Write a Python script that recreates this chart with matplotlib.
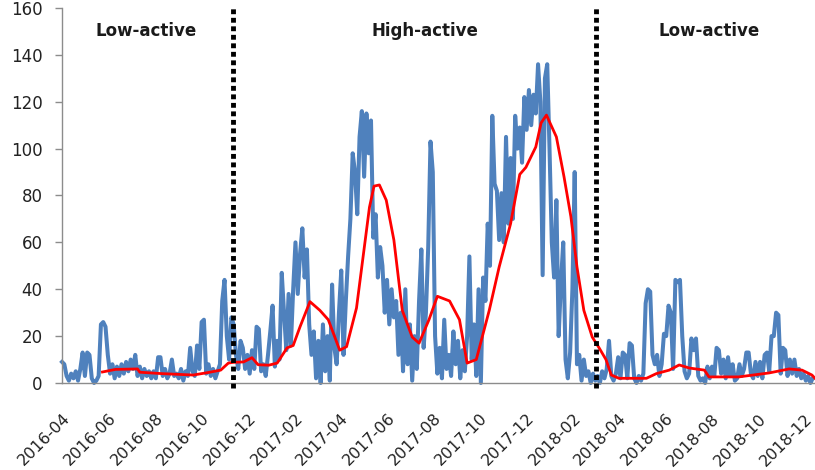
import matplotlib
matplotlib.use('Agg')
import matplotlib.pyplot as plt
import matplotlib.transforms as mtransforms
import pandas as pd

# activity index, one reading every 3 days starting 2016-04-01
series_start = '2016-04-01'
series_step = '3D'
activity = [
    9, 8, 3, 1, 4, 2, 5, 1, 6, 13,
    3, 13, 12, 2, 0, 1, 3, 25, 26, 24,
    12, 4, 8, 2, 7, 3, 8, 4, 9, 5,
    10, 6, 12, 3, 7, 2, 6, 3, 5, 2,
    5, 2, 11, 11, 3, 6, 2, 4, 10, 3,
    4, 2, 6, 1, 5, 3, 15, 5, 3, 16,
    6, 26, 27, 4, 8, 3, 6, 2, 5, 8,
    35, 44, 20, 10, 28, 25, 12, 6, 18, 15,
    6, 12, 4, 14, 6, 24, 23, 5, 8, 3,
    12, 22, 33, 7, 18, 10, 47, 30, 14, 38,
    16, 40, 60, 38, 55, 66, 45, 57, 25, 12,
    22, 2, 18, 0, 25, 5, 20, 1, 42, 15,
    8, 30, 48, 12, 35, 54, 70, 98, 90, 72,
    105, 116, 88, 115, 98, 112, 62, 72, 45, 58,
    50, 30, 44, 25, 40, 28, 35, 12, 30, 5,
    40, 8, 25, 1, 20, 6, 35, 57, 15, 30,
    58, 103, 90, 20, 4, 15, 2, 27, 6, 12,
    3, 22, 8, 18, 2, 14, 5, 20, 54, 10,
    25, 3, 40, 0, 45, 35, 68, 50, 114, 85,
    82, 61, 81, 60, 105, 68, 96, 70, 114, 100,
    109, 94, 122, 108, 125, 110, 123, 115, 136, 120,
    46, 130, 136, 100, 60, 45, 78, 20, 43, 60,
    10, 2, 13, 40, 90, 8, 12, 1, 10, 3,
    5, 0, 4, 1, 3, 0, 5, 2, 6, 18,
    3, 1, 4, 11, 2, 13, 12, 2, 17, 16,
    2, 0, 3, 1, 4, 34, 40, 39, 12, 8,
    12, 3, 8, 21, 20, 33, 30, 6, 44, 43,
    44, 20, 5, 2, 4, 19, 14, 19, 3, 1,
    2, 0, 7, 2, 7, 3, 15, 14, 4, 10,
    2, 11, 3, 8, 1, 2, 8, 3, 6, 13,
    13, 4, 2, 9, 3, 9, 2, 12, 13, 5,
    20, 20, 30, 29, 4, 15, 14, 3, 10, 4,
    10, 3, 6, 2, 4, 1, 3, 0, 2,
]

# smoothed trend line
trend_dates = [
    '2016-05-24', '2016-06-10', '2016-07-09', '2016-07-12', '2016-08-10',
    '2016-09-20', '2016-10-10', '2016-10-26', '2016-11-05', '2016-11-11',
    '2016-11-25', '2016-12-06', '2016-12-14', '2016-12-28', '2017-01-08',
    '2017-01-21', '2017-01-29', '2017-02-07', '2017-02-20', '2017-03-05',
    '2017-03-16', '2017-03-31', '2017-04-09', '2017-04-22', '2017-05-09',
    '2017-05-15', '2017-05-22', '2017-05-31', '2017-06-10', '2017-06-21',
    '2017-07-04', '2017-07-13', '2017-07-26', '2017-08-06', '2017-08-22',
    '2017-09-04', '2017-09-14', '2017-09-26', '2017-10-13', '2017-10-26',
    '2017-11-10', '2017-11-22', '2017-11-30', '2017-12-13', '2017-12-20',
    '2017-12-27', '2018-01-09', '2018-01-19', '2018-01-28', '2018-02-05',
    '2018-02-14', '2018-02-25', '2018-03-06', '2018-03-15', '2018-03-22',
    '2018-04-01', '2018-05-07', '2018-05-20', '2018-06-06', '2018-06-19',
    '2018-07-02', '2018-07-22', '2018-07-28', '2018-09-05', '2018-10-15',
    '2018-11-10', '2018-11-27', '2018-12-10', '2018-12-14',
]
trend_values = [
    4.7, 5.8, 6.0, 4.6, 4.0,
    3.4, 4.5, 5.5, 8.5, 8.8,
    9.0, 10.8, 7.8, 7.6, 8.5,
    15, 16, 24, 34.7, 31,
    27, 14, 15.5, 32, 75,
    84, 84.5, 78, 61, 31,
    19.6, 17, 27, 37, 35,
    27, 8.5, 10, 31, 49.5,
    68, 89, 92, 100.7, 111,
    114.3, 105, 88, 71, 49.5,
    31, 19.6, 15, 10, 3.4,
    2, 2, 4, 5.5, 7.7,
    6.4, 5.5, 2.6, 2.6, 4.3,
    6, 5.5, 3.4, 2,
]

# phase boundaries and labels
boundary_dates = ['2016-11-11', '2018-03-02']
phase_names = ['Low-active', 'High-active', 'Low-active']
phase_label_dates = ['2016-07-20', '2017-07-21', '2018-07-28']
phase_label_y = 150

tick_dates = pd.date_range('2016-04-01', '2018-12-01', freq='2MS')

blue = '#4F81BD'
axis_grey = '#8C8C8C'

fig = plt.figure(figsize=(8.15, 4.70), dpi=100)
ax = fig.add_axes([0.0761, 0.1851, 0.9239, 0.7979])

x_activity = pd.date_range(series_start, periods=len(activity), freq=series_step)
ax.plot(x_activity, activity, color=blue, lw=2.9, solid_joinstyle='round',
        clip_on=False, zorder=2)
ax.plot(pd.to_datetime(trend_dates), trend_values, color='#FF0000', lw=2.0, zorder=3)

for d in boundary_dates:
    ax.plot([pd.Timestamp(d)] * 2, [-2, 161], color='black', lw=3.5,
            linestyle=(0, (1.0, 0.75)), clip_on=False, zorder=4)

for name, d in zip(phase_names, phase_label_dates):
    ax.text(pd.Timestamp(d), phase_label_y, name, ha='center', va='center',
            fontsize=12, fontweight='bold', color='#1a1a1a')

ax.set_xlim(pd.Timestamp('2016-04-01'), pd.Timestamp('2018-12-14'))
ax.set_ylim(0, 160)
ax.set_yticks(range(0, 161, 20))

ax.set_xticks(tick_dates)
ax.set_xticklabels([d.strftime('%Y-%m') for d in tick_dates])
shift = mtransforms.ScaledTranslation(-6 / 100, 0, fig.dpi_scale_trans)
for lab in ax.get_xticklabels():
    lab.set_rotation(45)
    lab.set_ha('right')
    lab.set_rotation_mode('anchor')
    lab.set_transform(lab.get_transform() + shift)

ax.tick_params(axis='x', length=0, pad=20, labelsize=11.5, labelcolor='#222222')
ax.tick_params(axis='y', length=5, width=1, color=axis_grey, pad=9,
               labelsize=12, labelcolor='#222222')

for side in ['top', 'right']:
    ax.spines[side].set_visible(False)
for side in ['left', 'bottom']:
    ax.spines[side].set_color(axis_grey)
    ax.spines[side].set_linewidth(1)

fig.savefig('out.png', dpi=100)
